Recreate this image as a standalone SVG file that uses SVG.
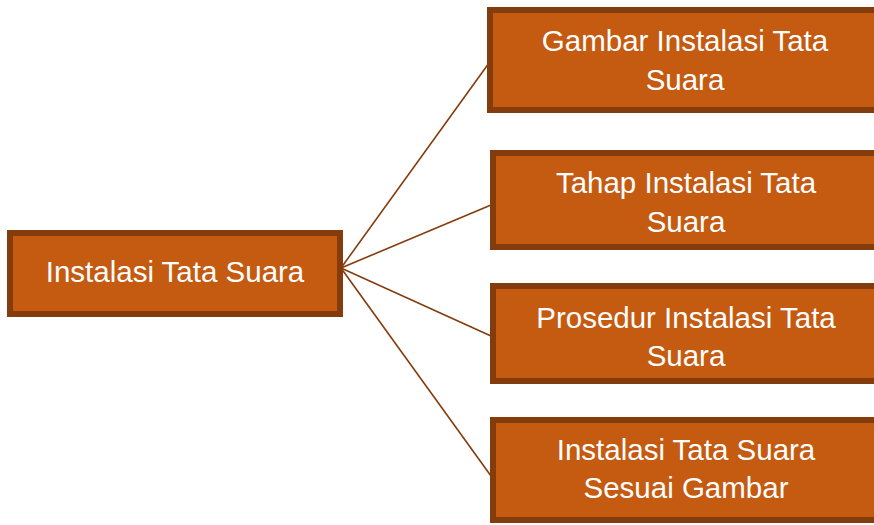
<svg xmlns="http://www.w3.org/2000/svg" width="874" height="525" viewBox="0 0 874 525">
<style>
.box{fill:#C55A11;stroke:#843C0C;stroke-width:6}
.t{font-family:"Liberation Sans",Arial,sans-serif;font-size:29.5px;fill:#FFFFFF;text-anchor:middle}
.c{stroke:#843C0C;stroke-width:1.6;fill:none}
</style>
<rect width="874" height="525" fill="#FFFFFF"/>
<g id="connectors">
<line class="c" x1="341" y1="268" x2="489" y2="63"/>
<line class="c" x1="341" y1="268" x2="491" y2="205"/>
<line class="c" x1="341" y1="268" x2="491" y2="336"/>
<line class="c" x1="341" y1="268" x2="491" y2="476"/>
</g>
<g id="root">
<rect class="box" x="10" y="233" width="330" height="81"/>
<text class="t" x="175" y="282">Instalasi Tata Suara</text>
</g>
<g id="gambar">
<rect class="box" x="490" y="10" width="392" height="100"/>
<text class="t" x="685" y="51">Gambar Instalasi Tata</text>
<text class="t" x="685" y="90">Suara</text>
</g>
<g id="tahap">
<rect class="box" x="493" y="153" width="390" height="94"/>
<text class="t" x="686" y="193">Tahap Instalasi Tata</text>
<text class="t" x="686" y="232">Suara</text>
</g>
<g id="prosedur">
<rect class="box" x="493" y="286" width="390" height="95"/>
<text class="t" x="686" y="328">Prosedur Instalasi Tata</text>
<text class="t" x="686" y="366">Suara</text>
</g>
<g id="sesuai">
<rect class="box" x="493" y="420" width="390" height="100"/>
<text class="t" x="686" y="460">Instalasi Tata Suara</text>
<text class="t" x="686" y="498">Sesuai Gambar</text>
</g>
</svg>
